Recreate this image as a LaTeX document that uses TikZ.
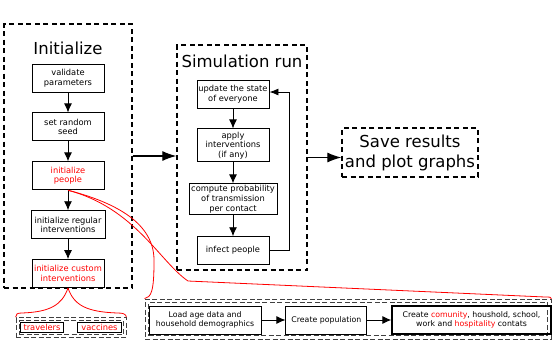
\documentclass[tikz,border=0pt]{standalone}
\usepackage{fontspec}
\setmainfont{DejaVu Sans}
\usetikzlibrary{arrows.meta,positioning}

\tikzset{
  stepbox/.style={rectangle, draw, line width=0.9pt, align=center, font=\fontsize{8.3}{9.6}\selectfont, minimum width=72pt, minimum height=28pt, inner sep=1pt},
  lowbox/.style={stepbox, font=\fontsize{7.8}{9.6}\selectfont},
  frame/.style={rectangle, draw, line width=1.3pt, dash pattern=on 5pt off 3.5pt},
  dframe/.style={rectangle, draw=black!75, line width=0.8pt, dash pattern=on 5pt off 2.5pt},
  title/.style={font=\fontsize{16.5}{20}\selectfont, align=center},
  flow/.style={-{Latex[length=9pt,width=8pt]}, line width=0.9pt},
  bigflow/.style={-{Latex[length=14pt,width=10pt]}, line width=1.2pt},
  zoomline/.style={red, line width=0.8pt}
}

\begin{document}
\begin{tikzpicture}[x=1pt, y=-1pt, node distance=20pt]
    \useasboundingbox (0,0) rectangle (554,360);

    % Initialize block
    \node (init) [frame, minimum width=128pt, minimum height=264pt] at (68,156) {};
    \node (inittitle) [title] at (68,48) {Initialize};
    \node (validate) [stepbox] at (68,78) {validate\\parameters};
    \node (seed) [stepbox, below=of validate] {set random\\seed};
    \node (people) [stepbox, below=of seed, text=red] {initialize\\people};
    \node (regular) [stepbox, below=of people, minimum width=74pt] {initialize regular\\interventions};
    \node (custom) [stepbox, below=of regular, text=red] {initialize custom\\interventions};

    % Simulation run block
    \node (sim) [frame, minimum width=130pt, minimum height=225pt] at (242,157.5) {};
    \node (simtitle) [title] at (242,61) {Simulation run};
    \node (update) [stepbox] at (233,94) {update the state\\of everyone};
    \node (apply) [stepbox, below=of update, minimum height=33pt] {apply\\interventions\\(if any)};
    \node (compute) [stepbox, below=21pt of apply, minimum width=88pt, minimum height=31pt] {compute probability\\of transmission\\per contact};
    \node (infect) [stepbox, below=21pt of compute] {infect people};

    % Save block
    \node (save) [frame, title, minimum width=136pt, minimum height=49pt, inner sep=0pt] at (410,152.5) {Save results\\and plot graphs};

    % Population block
    \node (pop) [dframe, minimum width=406pt, minimum height=40pt] at (348,319) {};
    \node (popin) [dframe, minimum width=399pt, minimum height=33pt] at (348,319) {};
    \node (load) [lowbox, minimum width=112pt] at (205,320) {Load age data and\\household demographics};
    \node (create) [lowbox, right=24pt of load, minimum width=81pt] {Create population};
    \node (contacts) [lowbox, right=24pt of create, minimum width=159pt, line width=1.4pt] {Create \textcolor{red}{comunity}, houshold, school,\\work and \textcolor{red}{hospitality} contats};

    % Custom interventions block
    \node (extra) [dframe, minimum width=110pt, minimum height=20pt] at (71,327.5) {};
    \node (extrain) [dframe, minimum width=104pt, minimum height=14pt] at (71,327.5) {};
    \node (travel) [stepbox, text=red, minimum width=43pt, minimum height=10pt, line width=1.2pt] at (42,327.5) {travelers};
    \node (vaccine) [stepbox, text=red, minimum width=44pt, minimum height=10pt, line width=1.2pt] at (99.5,327.5) {vaccines};

    % Links
    \draw [flow] (validate) -- (seed);
    \draw [flow] (seed) -- (people);
    \draw [flow] (people) -- (regular);
    \draw [flow] (regular) -- (custom);
    \draw [flow] (update) -- (apply);
    \draw [flow] (apply) -- (compute);
    \draw [flow] (compute) -- (infect);
    \draw [flow, -{Latex[length=9pt,width=7pt]}] (infect.east) -- ++(20,0) |- ([yshift=2pt]update.east);
    \draw [bigflow] (init.east) -- (init.east -| sim.west);
    \draw [bigflow] (sim.east) -- (sim.east -| save.west);
    \draw [flow] (load) -- (create);
    \draw [flow] (create) -- (contacts);

    % Zoom outlines
    \draw [zoomline] (people.south) .. controls (125,205) and (155,228) .. (154,262)
        .. controls (154,292) and (151,297) .. (pop.north west);
    \draw [zoomline] (people.south) .. controls (135,208) and (160,262) .. (188,281)
        -- (545,297) .. controls (550,297) and (551,297) .. (pop.north east);
    \draw [zoomline] (custom.south) .. controls (62,305) and (50,312) .. (22,313)
        .. controls (17,313) and (16,314) .. (extra.north west);
    \draw [zoomline] (custom.south) .. controls (74,305) and (86,312) .. (118,313)
        .. controls (123,313) and (126,314) .. (extra.north east);
\end{tikzpicture}
\end{document}
